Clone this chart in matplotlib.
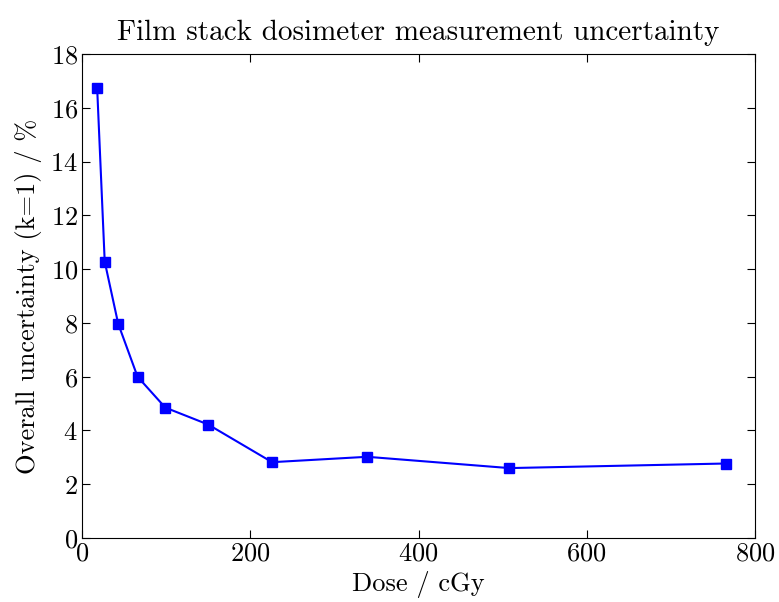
import matplotlib
matplotlib.use('Agg')
import matplotlib.pyplot as plt

# dose (cGy) and overall uncertainty (k=1, %)
dose = [18, 27, 43, 66, 99, 150, 226, 339, 508, 765]
uncertainty = [16.75, 10.28, 7.97, 6.0, 4.85, 4.22, 2.82, 3.02, 2.6, 2.77]

x_ticks = [0, 200, 400, 600, 800]
y_ticks = [0, 2, 4, 6, 8, 10, 12, 14, 16, 18]

plt.rcParams['font.family'] = 'serif'
plt.rcParams['font.serif'] = ['cmr10']
plt.rcParams['mathtext.fontset'] = 'cm'
plt.rcParams['axes.formatter.use_mathtext'] = True

fig = plt.figure(figsize=(7.79, 6.02), dpi=100)
ax = fig.add_axes([82 / 779, 64 / 602, 673 / 779, 484 / 602])

ax.plot(dose, uncertainty, 's-', color='#0000ff', linewidth=1.5, markersize=7)

ax.set_xlim(0, 800)
ax.set_ylim(0, 18)
ax.set_xticks(x_ticks)
ax.set_yticks(y_ticks)
ax.tick_params(direction='in', top=True, right=True, length=6, width=0.8,
               labelsize=19, pad=3)
for s in ax.spines.values():
    s.set_linewidth(0.8)

ax.set_xlabel('Dose / cGy', fontsize=19, labelpad=4)
ax.set_ylabel('Overall uncertainty (k=1) / %', fontsize=19, labelpad=6)
ax.set_title('Film stack dosimeter measurement uncertainty', fontsize=21, pad=10)

fig.savefig('out.png', dpi=100)
